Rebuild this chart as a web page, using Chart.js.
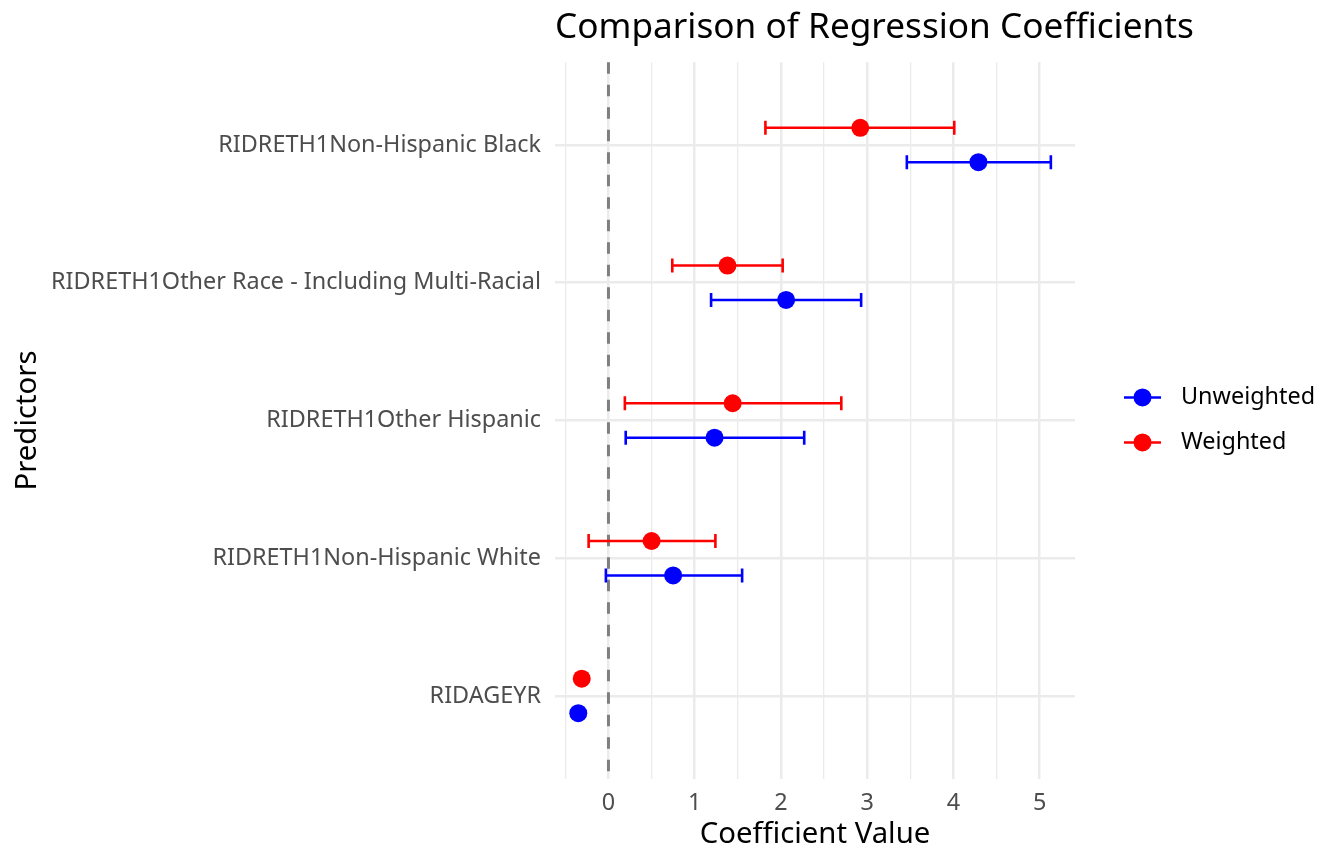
<!DOCTYPE html>
<html>
<head>
<meta charset="utf-8">
<script src="https://cdn.jsdelivr.net/npm/chart.js@4/dist/chart.umd.min.js"></script>
<style>
  html, body { margin: 0; padding: 0; background: #ffffff; }
  #wrap { width: 1344px; height: 865px; }
</style>
</head>
<body>
<div id="wrap"><canvas id="CoefficientDiagram"></canvas></div>
<script>
// predictors, bottom to top
var predictors = ["RIDAGEYR", "RIDRETH1Non-Hispanic White", "RIDRETH1Other Hispanic",
                  "RIDRETH1Other Race - Including Multi-Racial", "RIDRETH1Non-Hispanic Black"];

// unweighted model
var unweighted_est = [-0.35, 0.75, 1.23, 2.06, 4.29];
var unweighted_low = [-0.37, -0.03, 0.20, 1.19, 3.46];
var unweighted_high = [-0.33, 1.55, 2.27, 2.93, 5.13];

// weighted model
var weighted_est = [-0.31, 0.50, 1.44, 1.38, 2.92];
var weighted_low = [-0.33, -0.23, 0.19, 0.74, 1.82];
var weighted_high = [-0.29, 1.24, 2.70, 2.02, 4.01];

var series_names = ["Unweighted", "Weighted"];
var series_colors = ["#0000FF", "#FF0000"];

var x_ticks = [-0.5, 0, 0.5, 1, 1.5, 2, 2.5, 3, 3.5, 4, 4.5, 5];
var dodge = 0.125; // vertical offset of the two models within a predictor row

var chart_title = "Comparison of Regression Coefficients";
var FONT = "'Noto Sans', 'DejaVu Sans', sans-serif";


function CoefficientDiagramBuildData(est, low, high, shift) {
    var data = [];
    for (var i = 0; i < est.length; ++i) {
        data.push({x: est[i], y: i + 1 + shift, low: low[i], high: high[i]});
    }
    return data;
}


// draws the zero line and the horizontal error bars under the points
var errorBarPlugin = {
    id: "errorBars",
    beforeDatasetsDraw: function (chart) {
        var ctx = chart.ctx;
        var xs = chart.scales.x;
        var area = chart.chartArea;

        // dashed reference line at 0
        ctx.save();
        ctx.strokeStyle = "#7F7F7F";
        ctx.lineWidth = 3;
        ctx.setLineDash([11.5, 11]);
        ctx.beginPath();
        ctx.moveTo(xs.getPixelForValue(0), area.top);
        ctx.lineTo(xs.getPixelForValue(0), area.bottom);
        ctx.stroke();
        ctx.restore();

        chart.data.datasets.forEach(function (ds, di) {
            var meta = chart.getDatasetMeta(di);
            if (meta.hidden) return;
            ctx.save();
            ctx.strokeStyle = ds.borderColor;
            ctx.lineWidth = 2.6;
            ds.data.forEach(function (p) {
                var y = chart.scales.y.getPixelForValue(p.y);
                var x0 = xs.getPixelForValue(p.low);
                var x1 = xs.getPixelForValue(p.high);
                ctx.beginPath();
                ctx.moveTo(x0, y);
                ctx.lineTo(x1, y);
                ctx.moveTo(x0, y - 7);
                ctx.lineTo(x0, y + 7);
                ctx.moveTo(x1, y - 7);
                ctx.lineTo(x1, y + 7);
                ctx.stroke();
            });
            ctx.restore();
        });
    },
    afterDraw: function (chart) {
        var ctx = chart.ctx;
        var area = chart.chartArea;

        // title, left aligned with the panel (may run past its right edge)
        ctx.save();
        ctx.fillStyle = "#000000";
        ctx.font = "35.2px " + FONT;
        ctx.textBaseline = "middle";
        ctx.textAlign = "left";
        ctx.fillText(chart_title, area.left, 28.1);
        ctx.restore();

        // legend to the right of the panel
        var mid = (area.top + area.bottom) / 2;
        var rows = [mid - 23, mid + 22];
        ctx.save();
        for (var i = 0; i < series_names.length; ++i) {
            var y = rows[i];
            ctx.strokeStyle = series_colors[i];
            ctx.fillStyle = series_colors[i];
            ctx.lineWidth = 2.6;
            ctx.beginPath();
            ctx.moveTo(1124, y);
            ctx.lineTo(1161, y);
            ctx.stroke();
            ctx.beginPath();
            ctx.arc(1142.5, y, 9, 0, 2 * Math.PI);
            ctx.fill();
            ctx.fillStyle = "#000000";
            ctx.font = "23.4px " + FONT;
            ctx.textBaseline = "middle";
            ctx.textAlign = "left";
            ctx.fillText(series_names[i], 1181, y);
        }
        ctx.restore();
    }
};


document.addEventListener('DOMContentLoaded', function () {

    var canvas = document.getElementById("CoefficientDiagram");

    var datasets = [
        {
            label: series_names[0],
            data: CoefficientDiagramBuildData(unweighted_est, unweighted_low, unweighted_high, -dodge),
            backgroundColor: series_colors[0],
            borderColor: series_colors[0],
            pointRadius: 9,
            pointHoverRadius: 9,
            borderWidth: 0
        },
        {
            label: series_names[1],
            data: CoefficientDiagramBuildData(weighted_est, weighted_low, weighted_high, dodge),
            backgroundColor: series_colors[1],
            borderColor: series_colors[1],
            pointRadius: 9,
            pointHoverRadius: 9,
            borderWidth: 0
        }
    ];

    new Chart(canvas, {
        type: "scatter",
        data: {datasets: datasets},
        plugins: [errorBarPlugin],
        options: {
            responsive: true,
            maintainAspectRatio: false,
            animation: false,
            layout: {padding: {left: 0, right: 269, top: 62.35, bottom: 0}},
            scales: {
                x: {
                    type: "linear",
                    min: -0.62,
                    max: 5.41,
                    afterBuildTicks: function (scale) {
                        scale.ticks = x_ticks.map(function (v) { return {value: v}; });
                    },
                    afterFit: function (scale) { scale.height = 86.4; },
                    border: {display: false},
                    grid: {
                        drawTicks: false,
                        color: "#EBEBEB",
                        lineWidth: function (c) { return (c.tick && c.tick.value % 1 !== 0) ? 1.3 : 2.5; }
                    },
                    ticks: {
                        padding: 11,
                        color: "#4D4D4D",
                        font: {family: FONT, size: 23.4},
                        callback: function (v) { return v % 1 === 0 ? String(v) : ""; }
                    },
                    title: {
                        display: true,
                        text: "Coefficient Value",
                        color: "#000000",
                        font: {family: FONT, size: 29.3},
                        padding: {top: 0, bottom: 13}
                    }
                },
                y: {
                    type: "linear",
                    min: 0.4,
                    max: 5.6,
                    afterBuildTicks: function (scale) {
                        scale.ticks = predictors.map(function (p, i) { return {value: i + 1}; });
                    },
                    afterFit: function (scale) { scale.width = 555; },
                    border: {display: false},
                    grid: {
                        drawTicks: false,
                        color: "#EBEBEB",
                        lineWidth: 2.5
                    },
                    ticks: {
                        padding: 14,
                        color: "#4D4D4D",
                        font: {family: FONT, size: 23.4},
                        callback: function (v) { return predictors[v - 1]; }
                    },
                    title: {
                        display: true,
                        text: "Predictors",
                        color: "#000000",
                        font: {family: FONT, size: 29.3},
                        padding: {top: 10.5, bottom: 0}
                    }
                }
            },
            plugins: {
                legend: {display: false},
                tooltip: {enabled: false},
                title: {display: false}
            }
        }
    });
})
</script>
</body>
</html>
